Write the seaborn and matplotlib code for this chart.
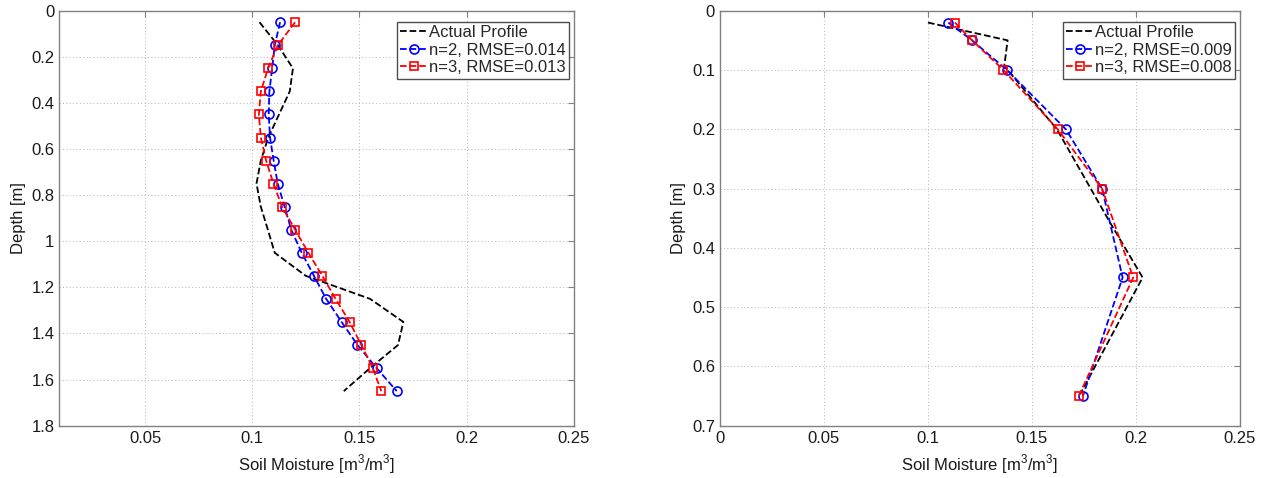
import numpy as np
import pandas as pd
import matplotlib
matplotlib.use("Agg")
import matplotlib.pyplot as plt
import seaborn as sns

# left profile (deep)
depth_fit_l = [0.05, 0.15, 0.25, 0.35, 0.45, 0.55, 0.65, 0.75, 0.85,
               0.95, 1.05, 1.15, 1.25, 1.35, 1.45, 1.55, 1.65]
n2_l = [0.113, 0.1105, 0.1093, 0.108, 0.1077, 0.1083, 0.110, 0.1119, 0.1151,
        0.1182, 0.1231, 0.1288, 0.1345, 0.1417, 0.1491, 0.158, 0.1674]
n3_l = [0.120, 0.1119, 0.1074, 0.104, 0.1031, 0.104, 0.1065, 0.1099, 0.1139,
        0.120, 0.1262, 0.1327, 0.1389, 0.1454, 0.1509, 0.1562, 0.1602]
depth_act_l = [0.05, 0.15, 0.25, 0.35, 0.45, 0.55, 0.65, 0.75, 0.85, 0.95,
               1.05, 1.15, 1.25, 1.35, 1.45, 1.55, 1.65]
act_l = [0.1034, 0.112, 0.119, 0.1175, 0.1125, 0.1075, 0.104, 0.102, 0.104,
         0.1073, 0.1105, 0.125, 0.155, 0.1705, 0.168, 0.155, 0.1427]

# right profile (shallow)
depth_fit_r = [0.02, 0.05, 0.1, 0.2, 0.3, 0.45, 0.65]
n2_r = [0.1098, 0.1212, 0.138, 0.1663, 0.1837, 0.1936, 0.1745]
n3_r = [0.113, 0.1212, 0.1363, 0.1624, 0.1837, 0.1987, 0.1725]
depth_act_r = [0.02, 0.05, 0.093, 0.2, 0.36, 0.45, 0.645]
act_r = [0.100, 0.1383, 0.1367, 0.162, 0.188, 0.2032, 0.1735]

labels_l = ["Actual Profile", "n=2, RMSE=0.014", "n=3, RMSE=0.013"]
labels_r = ["Actual Profile", "n=2, RMSE=0.009", "n=3, RMSE=0.008"]

sns.set_style("white")
plt.rcParams["font.family"] = ["Liberation Sans", "DejaVu Sans"]
plt.rcParams["mathtext.fontset"] = "custom"
plt.rcParams["mathtext.rm"] = "Liberation Sans"

fig = plt.figure(figsize=(12.72, 4.78), dpi=100)
ax1 = fig.add_axes([0.0466, 0.1094, 0.4045, 0.8682])
ax2 = fig.add_axes([0.566, 0.1094, 0.4088, 0.8682])


def draw(ax, d_act, act, d_fit, n2, n3, labels):
    sns.lineplot(x=act, y=d_act, sort=False, estimator=None, ax=ax,
                 color="black", linestyle="--", linewidth=1.3, label=labels[0])
    sns.lineplot(x=n2, y=d_fit, sort=False, estimator=None, ax=ax,
                 color="blue", linestyle="--", linewidth=1.3, marker="o",
                 markersize=6.5, markerfacecolor="none", markeredgecolor="blue",
                 markeredgewidth=1.2, label=labels[1])
    sns.lineplot(x=n3, y=d_fit, sort=False, estimator=None, ax=ax,
                 color="red", linestyle="--", linewidth=1.3, marker="s",
                 markersize=5.5, markerfacecolor="none", markeredgecolor="red",
                 markeredgewidth=1.2, label=labels[2])
    ax.grid(True, linestyle=(0, (1, 2.5)), color="0.7", linewidth=0.7)
    for s in ax.spines.values():
        s.set_color("0.5")
        s.set_linewidth(1.0)
    ax.tick_params(direction="in", length=4, width=0.8, color="0.5",
                   top=True, right=True, labelsize=12, labelcolor="0.1")
    ax.set_xlabel("Soil Moisture [m$^3$/m$^3$]", fontsize=12, color="0.1",
                  labelpad=5)
    ax.set_ylabel("Depth [m]", fontsize=12, color="0.1")
    leg = ax.legend(loc="upper right", bbox_to_anchor=(1.0, 0.985),
                    fontsize=12, handlelength=1.6, handletextpad=0.1,
                    borderpad=0.2, labelspacing=0.15, fancybox=False,
                    framealpha=1, edgecolor="0.3", borderaxespad=0.3)
    leg.get_frame().set_linewidth(1.0)


def fmt(v):
    return ("%g" % round(v, 2))


draw(ax1, depth_act_l, act_l, depth_fit_l, n2_l, n3_l, labels_l)
ax1.set_xlim(0.01, 0.25)
ax1.set_ylim(1.8, 0)
xt1 = [0.05, 0.1, 0.15, 0.2, 0.25]
yt1 = np.arange(0, 1.81, 0.2)
ax1.set_xticks(xt1)
ax1.set_xticklabels([fmt(v) for v in xt1])
ax1.set_yticks(yt1)
ax1.set_yticklabels([fmt(v) for v in yt1])

draw(ax2, depth_act_r, act_r, depth_fit_r, n2_r, n3_r, labels_r)
ax2.set_xlim(0, 0.25)
ax2.set_ylim(0.7, 0)
xt2 = [0, 0.05, 0.1, 0.15, 0.2, 0.25]
yt2 = np.arange(0, 0.71, 0.1)
ax2.set_xticks(xt2)
ax2.set_xticklabels([fmt(v) for v in xt2])
ax2.set_yticks(yt2)
ax2.set_yticklabels([fmt(v) for v in yt2])

fig.savefig("out.png", dpi=100)
